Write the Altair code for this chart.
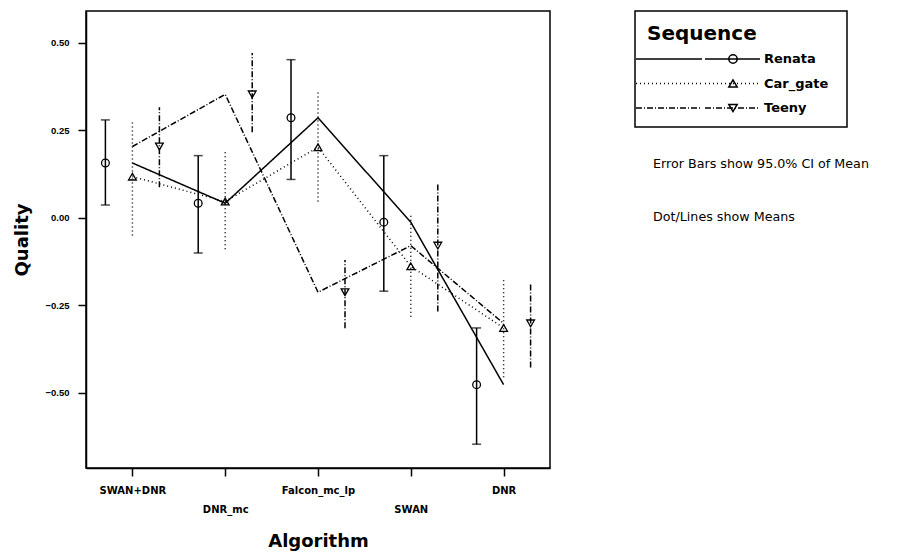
import altair as alt
import pandas as pd

algorithms = ["SWAN+DNR", "DNR_mc", "Falcon_mc_lp", "SWAN", "DNR"]
sequences = ["Renata", "Car_gate", "Teeny"]

renata_mean = [0.156, 0.041, 0.285, -0.013, -0.477]
renata_lo = [0.036, -0.101, 0.109, -0.210, -0.647]
renata_hi = [0.279, 0.177, 0.451, 0.177, -0.315]

cargate_mean = [0.117, 0.046, 0.201, -0.139, -0.315]
cargate_lo = [-0.051, -0.090, 0.046, -0.283, -0.456]
cargate_hi = [0.280, 0.189, 0.360, 0.008, -0.170]

teeny_mean = [0.203, 0.352, -0.213, -0.080, -0.302]
teeny_lo = [0.087, 0.244, -0.316, -0.268, -0.428]
teeny_hi = [0.315, 0.470, -0.121, 0.100, -0.188]

y_ticks = [-0.5, -0.25, 0.0, 0.25, 0.5]
note_lines = ["Error Bars show 95.0% CI of Mean", "Dot/Lines show Means"]

rows = []
for name, m, lo, hi in [
    ("Renata", renata_mean, renata_lo, renata_hi),
    ("Car_gate", cargate_mean, cargate_lo, cargate_hi),
    ("Teeny", teeny_mean, teeny_lo, teeny_hi),
]:
    for a, mv, lv, hv in zip(algorithms, m, lo, hi):
        rows.append({"Algorithm": a, "Sequence": name, "mean": mv, "lo": lv, "hi": hv})
df = pd.DataFrame(rows)

dash_scale = alt.Scale(domain=sequences, range=[[1, 0], [1, 3], [6, 2, 1, 2]])
shape_scale = alt.Scale(domain=sequences, range=["circle", "triangle-up", "triangle-down"])

x_enc = alt.X(
    "Algorithm:N",
    sort=algorithms,
    scale=alt.Scale(type="point", padding=0.5),
    axis=alt.Axis(
        title="Algorithm",
        labelAngle=0,
        tickSize=8,
        tickWidth=1.5,
        tickColor="black",
        labelPadding=9,
        labelLineHeight=19,
        labelExpr="indexof(['DNR_mc','SWAN'], datum.value) >= 0 ? ['', datum.label] : datum.label",
        labelFont="DejaVu Sans",
        labelFontWeight="bold",
        labelFontSize=10,
        labelColor="black",
        titleFont="DejaVu Sans",
        titleFontSize=18,
        titleFontWeight="bold",
        titleColor="black",
        titlePadding=18,
        domainColor="black",
        domainWidth=1.5,
    ),
)
y_scale = alt.Scale(domain=[-0.715, 0.59], nice=False, zero=False)
y_axis = alt.Axis(
    title="Quality",
    values=y_ticks,
    format=".2f",
    grid=False,
    ticks=True,
    tickSize=8,
    tickWidth=1.5,
    tickColor="black",
    labelPadding=9,
    labelFont="Liberation Sans",
    labelFontWeight="bold",
    labelFontSize=9.5,
    labelColor="black",
    titleFont="DejaVu Sans",
    titleFontSize=18,
    titleFontWeight="bold",
    titleColor="black",
    titlePadding=13,
    domainColor="black",
    domainWidth=1.5,
)
xoff = alt.XOffset(
    "Sequence:N",
    sort=sequences,
    scale=alt.Scale(type="point", domain=sequences, range=[-27, 27], padding=0),
)

base = alt.Chart(df)

lines = base.mark_line(color="black", strokeWidth=1.5).encode(
    x=x_enc,
    y=alt.Y("mean:Q", scale=y_scale, axis=y_axis),
    detail="Sequence:N",
    strokeDash=alt.StrokeDash("Sequence:N", scale=dash_scale, legend=None),
)

bars = base.mark_rule(color="black", strokeWidth=1.5).encode(
    x=x_enc,
    xOffset=xoff,
    y=alt.Y("lo:Q", scale=y_scale, axis=y_axis),
    y2="hi:Q",
    strokeDash=alt.StrokeDash("Sequence:N", scale=dash_scale, legend=None),
)

caps_lo = base.transform_filter(alt.datum.Sequence == "Renata").mark_tick(
    color="black", size=9, thickness=1.5, orient="horizontal"
).encode(x=x_enc, xOffset=xoff, y=alt.Y("lo:Q", scale=y_scale, axis=y_axis))

caps_hi = base.transform_filter(alt.datum.Sequence == "Renata").mark_tick(
    color="black", size=9, thickness=1.5, orient="horizontal"
).encode(x=x_enc, xOffset=xoff, y=alt.Y("hi:Q", scale=y_scale, axis=y_axis))

points = base.mark_point(filled=False, color="black", strokeWidth=1.3, size=60, opacity=1).encode(
    x=x_enc,
    xOffset=xoff,
    y=alt.Y("mean:Q", scale=y_scale, axis=y_axis),
    shape=alt.Shape("Sequence:N", scale=shape_scale, legend=None),
)

main = alt.layer(lines, bars, caps_lo, caps_hi, points).properties(width=464, height=457)

# legend panel
leg_df = pd.DataFrame({"Sequence": sequences})
leg_y = alt.Y("Sequence:N", sort=sequences, scale=alt.Scale(type="point", range=[48, 97], padding=0), axis=None)
leg_base = alt.Chart(leg_df)
seg1 = leg_base.mark_rule(color="black", strokeWidth=1.5).encode(
    x=alt.value(1), x2=alt.value(67), y=leg_y,
    strokeDash=alt.StrokeDash("Sequence:N", scale=dash_scale, legend=None),
)
seg2 = leg_base.mark_rule(color="black", strokeWidth=1.5).encode(
    x=alt.value(70), x2=alt.value(125), y=leg_y,
    strokeDash=alt.StrokeDash("Sequence:N", scale=dash_scale, legend=None),
)
leg_pts = leg_base.mark_point(filled=False, color="black", strokeWidth=1.5, size=70, opacity=1).encode(
    x=alt.value(98), y=leg_y,
    shape=alt.Shape("Sequence:N", scale=shape_scale, legend=None),
)
leg_txt = leg_base.mark_text(
    align="left", baseline="middle", font="DejaVu Sans", fontWeight="bold", fontSize=13, color="black"
).encode(x=alt.value(129), y=leg_y, text="Sequence:N")
leg_title = alt.Chart(pd.DataFrame({"t": ["Sequence"]})).mark_text(
    align="left", baseline="middle", font="DejaVu Sans", fontWeight="bold", fontSize=20, color="black"
).encode(x=alt.value(12), y=alt.value(23), text="t:N")
notes_df = pd.DataFrame({"t": note_lines, "row": [0, 1]})
notes = alt.Chart(notes_df).mark_text(
    align="left", baseline="middle", font="DejaVu Sans", fontSize=12.7, color="black"
).encode(
    x=alt.value(18),
    y=alt.Y("row:O", scale=alt.Scale(type="point", range=[153, 206], padding=0), axis=None),
    text="t:N",
)

legend_box = alt.layer(seg1, seg2, leg_pts, leg_txt, leg_title).properties(width=212, height=116)
legend_panel = alt.layer(legend_box, notes).resolve_scale(y="independent").properties(width=212, height=116)

chart = alt.hconcat(main, legend_panel, spacing=83).properties(
    padding={"left": 5, "top": 2, "right": 5, "bottom": 0},
    background="white",
).configure_view(stroke="black", strokeWidth=1.5)

chart.save("out.html", embed_options={"renderer": "svg", "actions": False})
